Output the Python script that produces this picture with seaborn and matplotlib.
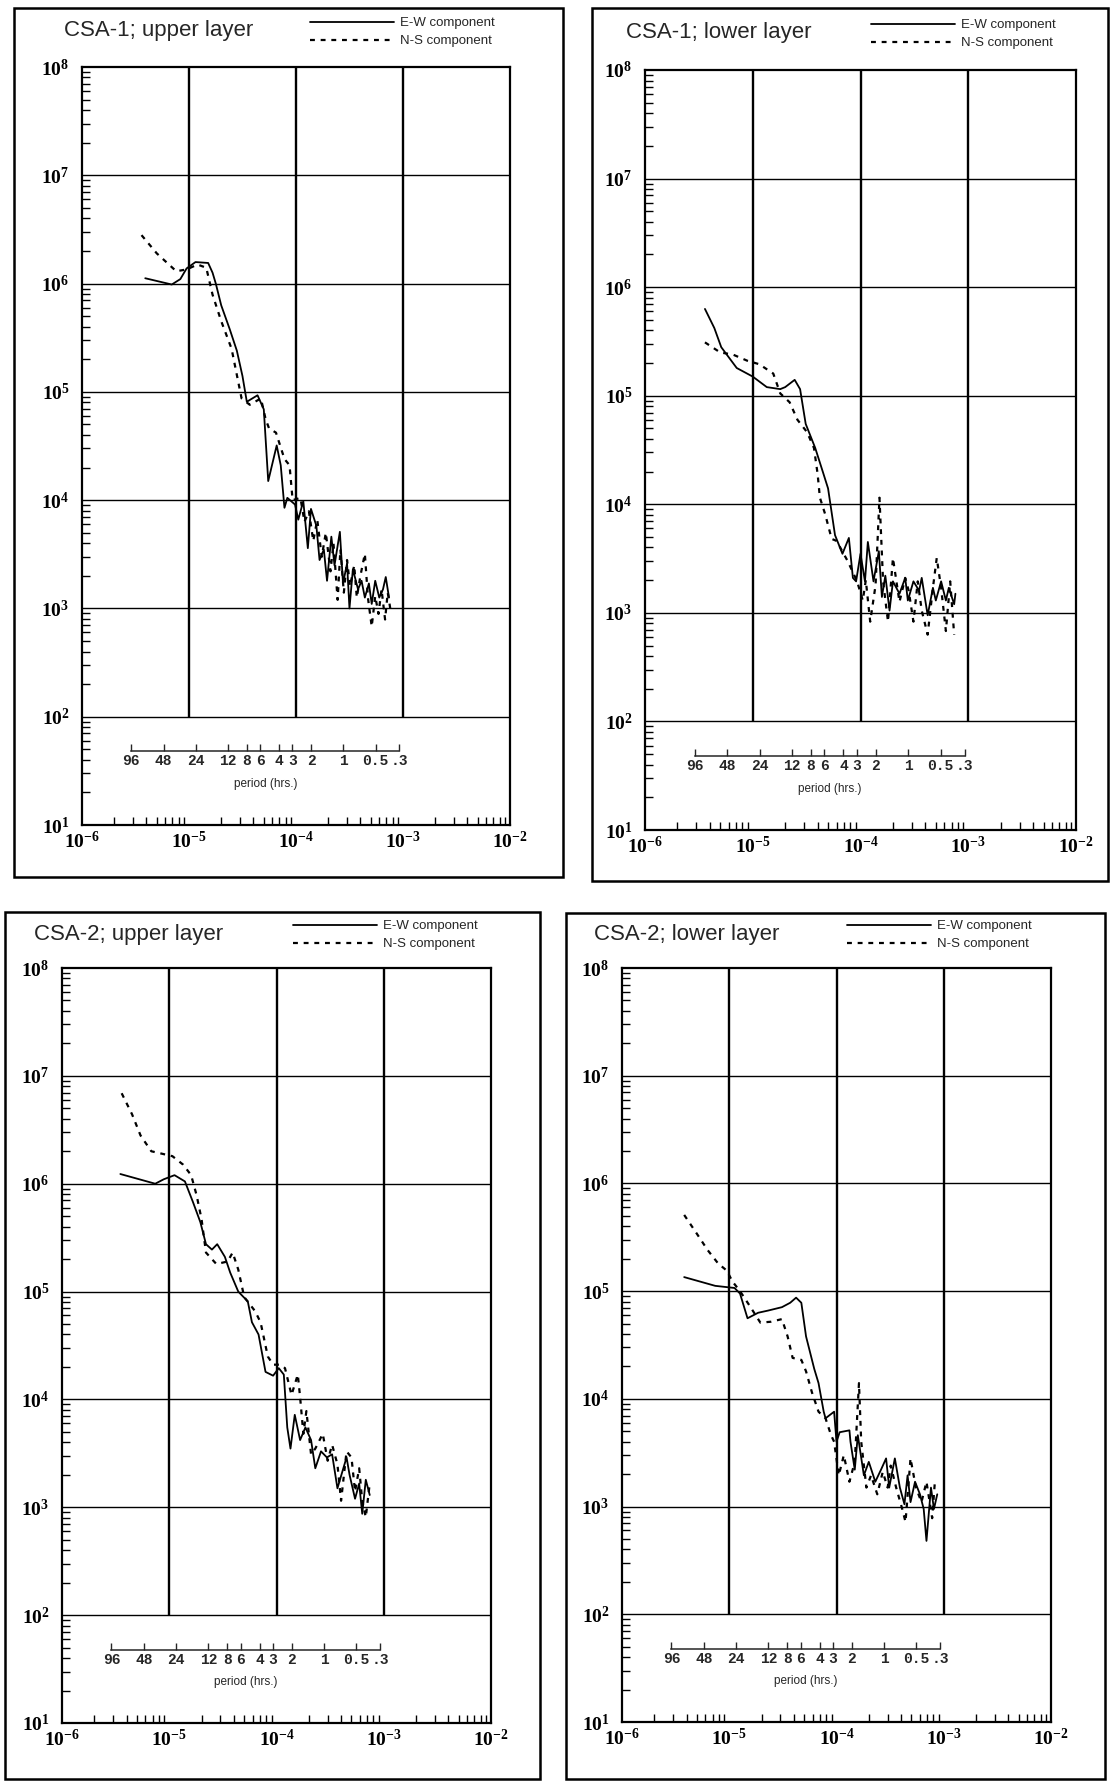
import numpy as np
import pandas as pd
import seaborn as sns
import matplotlib.pyplot as plt
from matplotlib.patches import Rectangle
from matplotlib.ticker import LogLocator, NullFormatter, NullLocator

# frequency (Hz) and spectral power

# CSA-1, upper layer
CSA1_UP_EW_F = [3.9e-6, 6.9e-6, 8.3e-6, 9.5e-6, 1.15e-5, 1.51e-5, 1.66e-5, 1.78e-5, 2.0e-5, 2.4e-5,
                2.8e-5, 3.16e-5, 3.47e-5, 4.37e-5, 5.0e-5, 5.5e-5, 6.6e-5, 7.2e-5, 7.8e-5, 8.3e-5,
                9.8e-5, 1.05e-4, 1.17e-4, 1.29e-4, 1.38e-4, 1.55e-4, 1.66e-4, 1.82e-4, 1.95e-4, 2.14e-4,
                2.29e-4, 2.57e-4, 2.75e-4, 3.0e-4, 3.16e-4, 3.4e-4, 3.8e-4, 4.1e-4, 4.4e-4, 4.8e-4,
                5.1e-4, 5.5e-4, 6.0e-4, 6.5e-4, 6.9e-4, 7.4e-4]
CSA1_UP_EW_P = [1.12e6, 9.8e5, 1.1e6, 1.38e6, 1.58e6, 1.55e6, 1.26e6, 1.0e6, 6.3e5, 3.8e5,
                2.4e5, 1.4e5, 8.1e4, 9.3e4, 6.9e4, 1.5e4, 3.2e4, 2.1e4, 8.5e3, 1.05e4,
                9.1e3, 6.6e3, 9.8e3, 3.6e3, 8.3e3, 5.8e3, 2.8e3, 3.5e3, 1.8e3, 4.6e3,
                2.5e3, 5.1e3, 1.7e3, 2.6e3, 1.0e3, 2.3e3, 1.5e3, 1.8e3, 1.26e3, 1.7e3,
                1.1e3, 1.8e3, 1.26e3, 1.5e3, 1.95e3, 1.26e3]
CSA1_UP_NS_F = [3.6e-6, 5.0e-6, 7.6e-6, 9.5e-6, 1.2e-5, 1.45e-5, 1.66e-5, 2.0e-5, 2.5e-5, 3.1e-5,
                3.7e-5, 4.7e-5, 5.2e-5, 5.6e-5, 6.5e-5, 7.8e-5, 8.7e-5, 9.3e-5, 1.1e-4, 1.2e-4,
                1.32e-4, 1.45e-4, 1.58e-4, 1.74e-4, 1.9e-4, 2.1e-4, 2.24e-4, 2.45e-4, 2.6e-4, 2.8e-4,
                3.0e-4, 3.2e-4, 3.5e-4, 3.7e-4, 4.0e-4, 4.4e-4, 4.7e-4, 5.1e-4, 5.5e-4, 5.9e-4,
                6.3e-4, 6.8e-4, 7.2e-4, 7.6e-4]
CSA1_UP_NS_P = [2.8e6, 1.9e6, 1.3e6, 1.35e6, 1.5e6, 1.4e6, 7.9e5, 4.5e5, 2.5e5, 8.7e4,
                7.6e4, 8.7e4, 5.6e4, 4.6e4, 4.2e4, 2.4e4, 2.1e4, 1.0e4, 1.05e4, 6.3e3,
                7.9e3, 4.2e3, 6.6e3, 3.0e3, 5.0e3, 2.2e3, 4.0e3, 1.2e3, 3.5e3, 1.4e3,
                2.8e3, 1.6e3, 2.5e3, 1.26e3, 2.0e3, 3.2e3, 1.26e3, 6.8e2, 1.3e3, 8.9e2,
                1.5e3, 7.9e2, 1.4e3, 1.0e3]

# CSA-1, lower layer
CSA1_LO_EW_F = [3.6e-6, 4.4e-6, 5.1e-6, 7.1e-6, 1.0e-5, 1.35e-5, 1.8e-5, 2.0e-5, 2.45e-5, 2.75e-5,
                3.1e-5, 3.8e-5, 4.5e-5, 5.0e-5, 5.8e-5, 6.8e-5, 7.8e-5, 8.5e-5, 9.1e-5, 1.0e-4,
                1.1e-4, 1.17e-4, 1.32e-4, 1.48e-4, 1.58e-4, 1.7e-4, 1.86e-4, 2.0e-4, 2.3e-4, 2.6e-4,
                2.75e-4, 3.1e-4, 3.5e-4, 3.7e-4, 4.2e-4, 4.7e-4, 5.0e-4, 5.6e-4, 6.2e-4, 6.6e-4,
                7.4e-4, 7.6e-4]
CSA1_LO_EW_P = [6.3e5, 4.2e5, 2.8e5, 1.8e5, 1.5e5, 1.2e5, 1.15e5, 1.2e5, 1.4e5, 1.15e5,
                5.5e4, 3.3e4, 1.95e4, 1.4e4, 5.2e3, 3.5e3, 4.9e3, 2.1e3, 1.95e3, 3.5e3,
                1.95e3, 4.5e3, 1.95e3, 3.7e3, 1.4e3, 2.2e3, 1.05e3, 1.95e3, 1.5e3, 2.1e3,
                1.3e3, 1.95e3, 1.6e3, 2.1e3, 9.5e2, 1.7e3, 1.3e3, 1.95e3, 1.3e3, 1.7e3,
                1.2e3, 1.5e3]
CSA1_LO_NS_F = [3.6e-6, 5.0e-6, 6.5e-6, 8.9e-6, 1.15e-5, 1.55e-5, 1.8e-5, 2.2e-5, 2.6e-5, 3.2e-5,
                3.7e-5, 4.0e-5, 4.2e-5, 4.7e-5, 5.4e-5, 6.0e-5, 7.6e-5, 9.3e-5, 1.05e-4, 1.12e-4,
                1.23e-4, 1.38e-4, 1.5e-4, 1.62e-4, 1.8e-4, 2.0e-4, 2.3e-4, 2.6e-4, 2.8e-4, 3.1e-4,
                3.4e-4, 3.7e-4, 4.2e-4, 4.7e-4, 5.1e-4, 5.6e-4, 6.2e-4, 6.8e-4, 7.4e-4]
CSA1_LO_NS_P = [3.1e5, 2.5e5, 2.4e5, 2.1e5, 1.95e5, 1.6e5, 1.05e5, 8.7e4, 6.0e4, 4.6e4,
                3.3e4, 1.9e4, 1.15e4, 8.1e3, 4.8e3, 4.6e3, 3.0e3, 1.95e3, 1.3e3, 2.0e3,
                8.3e2, 1.8e3, 1.15e4, 1.95e3, 8.3e2, 3.2e3, 1.26e3, 2.1e3, 1.6e3, 8.3e2,
                1.95e3, 1.05e3, 6.3e2, 1.7e3, 3.2e3, 1.7e3, 6.8e2, 1.95e3, 6.3e2]

# CSA-2, upper layer
CSA2_UP_EW_F = [3.5e-6, 7.4e-6, 8.9e-6, 1.12e-5, 1.4e-5, 1.66e-5, 1.95e-5, 2.2e-5, 2.5e-5, 2.8e-5,
                3.3e-5, 3.7e-5, 4.4e-5, 5.4e-5, 5.9e-5, 6.8e-5, 7.9e-5, 9.3e-5, 1.05e-4, 1.17e-4,
                1.26e-4, 1.35e-4, 1.48e-4, 1.66e-4, 1.86e-4, 2.1e-4, 2.3e-4, 2.6e-4, 2.95e-4, 3.3e-4,
                3.7e-4, 4.2e-4, 4.5e-4, 4.8e-4, 5.4e-4, 5.9e-4, 6.3e-4, 6.8e-4, 7.4e-4]
CSA2_UP_EW_P = [1.23e6, 1.0e6, 1.1e6, 1.2e6, 1.05e6, 6.8e5, 4.4e5, 2.75e5, 2.45e5, 2.75e5,
                2.1e5, 1.5e5, 1.0e5, 8.1e4, 5.2e4, 4.0e4, 1.8e4, 1.66e4, 1.95e4, 1.7e4,
                5.5e3, 3.5e3, 7.2e3, 4.2e3, 5.5e3, 4.2e3, 2.3e3, 3.3e3, 2.9e3, 3.1e3,
                1.5e3, 2.3e3, 2.9e3, 2.0e3, 1.2e3, 1.66e3, 8.7e2, 1.8e3, 1.3e3]
CSA2_UP_NS_F = [3.6e-6, 4.5e-6, 5.4e-6, 6.8e-6, 8.5e-6, 1.07e-5, 1.35e-5, 1.6e-5, 1.8e-5, 2.0e-5,
                2.2e-5, 2.75e-5, 3.5e-5, 3.9e-5, 4.4e-5, 5.0e-5, 6.3e-5, 7.1e-5, 8.3e-5, 9.3e-5,
                1.07e-4, 1.2e-4, 1.38e-4, 1.58e-4, 1.66e-4, 1.78e-4, 1.9e-4, 2.1e-4, 2.3e-4, 2.7e-4,
                3.0e-4, 3.3e-4, 3.7e-4, 4.0e-4, 4.5e-4, 5.0e-4, 5.4e-4, 5.9e-4, 6.3e-4, 6.8e-4,
                7.4e-4]
CSA2_UP_NS_P = [6.9e6, 4.4e6, 2.8e6, 2.0e6, 1.9e6, 1.8e6, 1.5e6, 1.2e6, 7.8e5, 4.7e5,
                2.3e5, 1.8e5, 1.9e5, 2.3e5, 1.6e5, 8.9e4, 6.6e4, 5.2e4, 2.5e4, 2.1e4,
                2.1e4, 1.95e4, 1.1e4, 1.7e4, 1.05e4, 4.8e3, 7.8e3, 3.1e3, 3.5e3, 4.8e3,
                2.7e3, 3.8e3, 2.5e3, 1.15e3, 3.3e3, 2.9e3, 1.4e3, 2.3e3, 1.15e3, 8.1e2,
                1.66e3]

# CSA-2, lower layer
CSA2_LO_EW_F = [3.8e-6, 7.4e-6, 1.12e-5, 1.26e-5, 1.48e-5, 1.86e-5, 2.3e-5, 3.1e-5, 3.7e-5, 4.2e-5,
                4.7e-5, 5.2e-5, 6.2e-5, 6.8e-5, 7.6e-5, 7.9e-5, 9.5e-5, 1.0e-4, 1.07e-4, 1.32e-4,
                1.35e-4, 1.48e-4, 1.58e-4, 1.8e-4, 2.0e-4, 2.3e-4, 2.6e-4, 2.9e-4, 3.1e-4, 3.5e-4,
                3.9e-4, 4.3e-4, 4.6e-4, 4.9e-4, 5.4e-4, 6.0e-4, 6.5e-4, 6.9e-4, 7.6e-4, 8.1e-4,
                8.7e-4]
CSA2_LO_EW_P = [1.35e5, 1.12e5, 1.07e5, 9.5e4, 5.6e4, 6.3e4, 6.6e4, 7.1e4, 7.8e4, 8.7e4,
                7.8e4, 3.8e4, 1.9e4, 1.4e4, 7.6e3, 6.6e3, 7.6e3, 4.0e3, 4.9e3, 5.1e3,
                4.0e3, 2.2e3, 4.6e3, 1.95e3, 2.6e3, 1.7e3, 2.2e3, 2.8e3, 1.5e3, 2.8e3,
                1.5e3, 1.05e3, 1.95e3, 1.1e3, 1.7e3, 1.3e3, 9.5e2, 4.8e2, 1.5e3, 9.5e2,
                1.3e3]
CSA2_LO_NS_F = [3.8e-6, 5.0e-6, 6.3e-6, 7.9e-6, 9.5e-6, 1.07e-5, 1.26e-5, 1.58e-5, 1.95e-5, 2.45e-5,
                3.1e-5, 3.5e-5, 3.9e-5, 4.7e-5, 5.2e-5, 5.9e-5, 6.8e-5, 7.9e-5, 8.9e-5, 9.5e-5,
                1.05e-4, 1.17e-4, 1.32e-4, 1.48e-4, 1.62e-4, 1.7e-4, 1.9e-4, 2.1e-4, 2.4e-4, 2.7e-4,
                3.0e-4, 3.2e-4, 3.6e-4, 4.1e-4, 4.4e-4, 4.9e-4, 5.5e-4, 6.2e-4, 6.9e-4, 7.8e-4,
                8.3e-4]
CSA2_LO_NS_P = [5.1e5, 3.4e5, 2.4e5, 1.8e5, 1.55e5, 1.23e5, 1.0e5, 7.1e4, 5.1e4, 5.2e4,
                5.5e4, 3.8e4, 2.4e4, 2.3e4, 1.8e4, 1.15e4, 7.6e3, 6.6e3, 4.6e3, 4.0e3,
                1.95e3, 3.0e3, 1.7e3, 2.6e3, 1.4e4, 4.0e3, 1.5e3, 1.95e3, 1.3e3, 2.1e3,
                1.5e3, 2.4e3, 1.5e3, 9.5e2, 7.2e2, 2.8e3, 1.5e3, 1.1e3, 1.7e3, 7.8e2,
                1.8e3]

TITLES = ["CSA-1; upper layer", "CSA-1; lower layer", "CSA-2; upper layer", "CSA-2; lower layer"]
SERIES = [
    (CSA1_UP_EW_F, CSA1_UP_EW_P, CSA1_UP_NS_F, CSA1_UP_NS_P),
    (CSA1_LO_EW_F, CSA1_LO_EW_P, CSA1_LO_NS_F, CSA1_LO_NS_P),
    (CSA2_UP_EW_F, CSA2_UP_EW_P, CSA2_UP_NS_F, CSA2_UP_NS_P),
    (CSA2_LO_EW_F, CSA2_LO_EW_P, CSA2_LO_NS_F, CSA2_LO_NS_P),
]
LEGEND_LABELS = ["E-W component", "N-S component"]

# period scale drawn inside each panel
PERIOD_HRS = [96, 48, 24, 12, 8, 6, 4, 3, 2, 1, 0.5, 0.3]
PERIOD_LABELS = ["96", "48", "24", "12", "8", "6", "4", "3", "2", "1", "0.5", ".3"]

X_EXP = [-6, -5, -4, -3, -2]
Y_EXP = [1, 2, 3, 4, 5, 6, 7, 8]

# layout, in pixels of the 1115x1782 picture
W, H = 1115, 1782
AXES_PX = [(82, 67, 510, 825), (645, 70, 1076, 830), (62, 968, 491, 1723), (622, 968, 1051, 1722)]
BOX_PX = [(14, 8, 563, 877), (592, 8, 1108, 881), (5, 912, 540, 1779), (566, 913, 1105, 1779)]
TITLE_PX = [(64, 36), (626, 38), (34, 940), (594, 940)]
LEGEND_PX = [(310, 17), (871, 19), (293, 920), (847, 920)]


def hz_to_hr(f):
    f = np.asarray(f, dtype=float)
    with np.errstate(divide="ignore"):
        return 1.0 / (3600.0 * f)


sns.set_style("white")
plt.rcParams["font.family"] = ["Liberation Sans", "DejaVu Sans"]
plt.rcParams["mathtext.fontset"] = "custom"
plt.rcParams["mathtext.rm"] = "Liberation Serif:bold"
plt.rcParams["mathtext.it"] = "Liberation Serif:italic:bold"
plt.rcParams["mathtext.bf"] = "Liberation Serif:bold"

fig = plt.figure(figsize=(W / 100, H / 100), dpi=100)
fig.patch.set_facecolor("white")

for i, title in enumerate(TITLES):
    ew_f, ew_p, ns_f, ns_p = SERIES[i]
    x0, y0, x1, y1 = AXES_PX[i]
    ax = fig.add_axes([x0 / W, 1 - y1 / H, (x1 - x0) / W, (y1 - y0) / H])
    ax.set_facecolor("none")
    ax.set_xscale("log")
    ax.set_yscale("log")
    ax.set_xlim(10.0 ** X_EXP[0], 10.0 ** X_EXP[-1])
    ax.set_ylim(10.0 ** Y_EXP[0], 10.0 ** Y_EXP[-1])

    # grid: horizontal decades span the width, vertical ones stop at 10^2
    ax.hlines([10.0 ** e for e in Y_EXP[1:-1]], 10.0 ** X_EXP[0], 10.0 ** X_EXP[-1],
              color="black", lw=1.0, zorder=1)
    ax.vlines([10.0 ** e for e in X_EXP[1:-1]], 1e2, 10.0 ** Y_EXP[-1],
              color="black", lw=1.7, zorder=1)

    ew = pd.DataFrame({"freq": ew_f, "power": ew_p})
    ns = pd.DataFrame({"freq": ns_f, "power": ns_p})
    sns.lineplot(data=ew, x="freq", y="power", ax=ax, estimator=None, color="black",
                 linewidth=1.3, label=LEGEND_LABELS[0], zorder=3)
    sns.lineplot(data=ns, x="freq", y="power", ax=ax, estimator=None, color="black",
                 linewidth=1.6, linestyle=(0, (2.2, 2.6)), label=LEGEND_LABELS[1], zorder=3)
    ax.set_xlabel("")
    ax.set_ylabel("")

    ax.set_xticks([10.0 ** e for e in X_EXP], labels=[r"$10^{%d}$" % e for e in X_EXP])
    ax.set_yticks([10.0 ** e for e in Y_EXP], labels=[r"$10^{%d}$" % e for e in Y_EXP])
    ax.xaxis.set_minor_locator(LogLocator(base=10, subs=np.arange(2, 10), numticks=20))
    ax.yaxis.set_minor_locator(LogLocator(base=10, subs=np.arange(2, 10), numticks=20))
    ax.xaxis.set_minor_formatter(NullFormatter())
    ax.yaxis.set_minor_formatter(NullFormatter())
    ax.tick_params(which="major", length=0, labelsize=14, colors="black")
    ax.tick_params(axis="x", which="major", pad=4)
    ax.tick_params(axis="y", which="major", pad=9)
    ax.tick_params(which="minor", direction="in", length=6, width=1.0, color="black",
                   left=True, bottom=True, right=False, top=False)
    for sp in ax.spines.values():
        sp.set_linewidth(1.6)
        sp.set_color("black")

    # period (hrs) scale inside the plot
    sec = ax.secondary_xaxis(0.097, functions=(hz_to_hr, hz_to_hr))
    sec.set_ticks(PERIOD_HRS, labels=PERIOD_LABELS)
    sec.xaxis.set_minor_locator(NullLocator())
    sec.tick_params(axis="x", which="major", direction="in", length=5, width=1.0, pad=2,
                    labelsize=10.5, labelfontfamily="Liberation Mono")
    for lbl in sec.get_xticklabels():
        lbl.set_fontweight("bold")
    sec.spines["bottom"].set_linewidth(1.1)
    sec.spines["bottom"].set_bounds(min(PERIOD_HRS), max(PERIOD_HRS))
    mid = np.sqrt(hz_to_hr(max(PERIOD_HRS)) * hz_to_hr(min(PERIOD_HRS)))
    ax.text(mid, 0.054, "period (hrs.)", transform=ax.get_xaxis_transform(),
            ha="center", va="center", fontsize=8.5)

    handles, labels = ax.get_legend_handles_labels()
    lx, ly = LEGEND_PX[i]
    ax.legend(handles, labels, loc="upper left", bbox_to_anchor=(lx / W, 1 - ly / H),
              bbox_transform=fig.transFigure, frameon=False, fontsize=9.5,
              handlelength=6.4, handletextpad=0.4, labelspacing=0.45,
              borderpad=0, borderaxespad=0)

    tx, ty = TITLE_PX[i]
    fig.text(tx / W, 1 - ty / H, title, fontsize=16, ha="left", va="baseline")

    bx0, by0, bx1, by1 = BOX_PX[i]
    fig.add_artist(Rectangle((bx0 / W, 1 - by1 / H), (bx1 - bx0) / W, (by1 - by0) / H,
                             transform=fig.transFigure, fill=False, lw=1.8,
                             edgecolor="black"))

fig.savefig("out.png", dpi=100)
plt.close(fig)
